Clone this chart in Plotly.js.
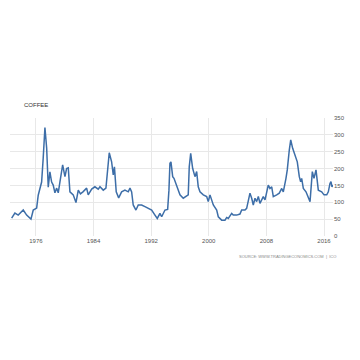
<!DOCTYPE html>
<html><head><meta charset="utf-8">
<script src="https://cdn.plot.ly/plotly-3.0.1.min.js"></script>
<style>html,body{margin:0;padding:0;background:#fff;}#chart{width:360px;height:360px;}</style>
</head><body><div id="chart"></div>
<script>
var years = [1972.63,1973.08,1973.54,1974.24,1974.71,1975.31,1975.63,1976.10,1976.32,1976.56,1976.79,1977.01,1977.25,1977.49,1977.71,1977.94,1978.18,1978.40,1978.64,1978.88,1979.10,1979.33,1979.57,1979.71,1980.03,1980.26,1980.49,1980.72,1981.18,1981.56,1981.88,1982.18,1982.53,1983.04,1983.26,1983.74,1984.19,1984.65,1984.89,1985.35,1985.72,1985.90,1986.18,1986.51,1986.74,1986.90,1987.15,1987.49,1987.90,1988.36,1988.82,1989.06,1989.29,1989.51,1989.89,1990.21,1990.68,1991.14,1991.60,1992.07,1992.53,1992.85,1993.22,1993.46,1993.92,1994.29,1994.47,1994.61,1994.75,1994.99,1995.17,1995.44,1995.76,1996.00,1996.46,1996.83,1997.15,1997.29,1997.49,1997.76,1998.08,1998.32,1998.54,1998.78,1999.24,1999.71,1999.93,2000.17,2000.63,2001.10,2001.32,2001.79,2002.25,2002.49,2002.71,2003.18,2003.40,2003.88,2004.33,2004.57,2005.03,2005.26,2005.49,2005.72,2005.96,2006.18,2006.42,2006.65,2006.88,2007.11,2007.57,2007.81,2008.26,2008.50,2008.74,2008.96,2009.43,2009.79,2010.13,2010.35,2010.72,2010.90,2011.18,2011.38,2011.65,2011.83,2012.11,2012.29,2012.57,2012.76,2012.90,2013.13,2013.50,2013.82,2014.06,2014.38,2014.61,2014.89,2015.21,2015.68,2016.00,2016.38,2016.60,2016.83,2016.97,2017.11,2017.25];
var prices = [53,68,62,77,62,50,77,83,121,145,160,231,322,261,145,190,160,151,128,142,128,160,202,211,176,200,202,131,122,99,136,125,131,142,122,139,146,139,146,136,142,176,247,220,181,205,131,113,131,136,131,142,131,92,77,92,92,87,82,77,62,52,67,57,77,79,136,216,220,176,171,156,136,122,112,117,122,205,245,201,176,191,146,131,122,117,102,122,92,77,57,47,47,55,52,67,62,62,65,77,77,82,107,127,112,92,112,102,117,97,117,107,151,141,146,117,122,127,141,131,171,196,255,285,260,250,230,220,176,161,171,141,131,112,102,191,171,196,136,131,122,122,131,156,161,146,151];
var xTicks = [1976,1984,1992,2000,2008,2016];
var xTickText = ["1976","1984","1992","2000","2008","2016"];
var yTicks = [0,50,100,150,200,250,300,350];

Plotly.newPlot('chart', [{
  x: years, y: prices, type: 'scatter', mode: 'lines',
  line: {color: '#3d6ea8', width: 1.5}, hoverinfo: 'none'
}], {
  width: 360, height: 360,
  margin: {l: 10, r: 27, t: 118, b: 124},
  paper_bgcolor: '#fff', plot_bgcolor: '#fff',
  showlegend: false,
  xaxis: {range: [1972.4, 2017.25], tickvals: xTicks, ticktext: xTickText,
    showgrid: true, gridcolor: '#e8e8e8', gridwidth: 1, zeroline: false, showline: false,
    ticks: '', tickfont: {family: 'Arial, Liberation Sans, sans-serif', size: 6, color: '#555'}},
  yaxis: {range: [0, 350], tickvals: yTicks, side: 'right',
    showgrid: true, gridcolor: '#e8e8e8', gridwidth: 1, zeroline: false, showline: false,
    ticks: '', tickfont: {family: 'Arial, Liberation Sans, sans-serif', size: 6, color: '#555'}},
  annotations: [
    {text: 'COFFEE', xref: 'paper', yref: 'paper', x: 0.036, y: 1.11, xanchor: 'left', yanchor: 'middle',
     showarrow: false, font: {family: 'Arial, Liberation Sans, sans-serif', size: 6, color: '#333'}},
    {text: 'SOURCE: WWW.TRADINGECONOMICS.COM  |  ICO', xref: 'paper', yref: 'paper', x: 1.015, y: -0.17,
     xanchor: 'right', yanchor: 'middle', showarrow: false,
     font: {family: 'Arial, Liberation Sans, sans-serif', size: 4, color: '#888'}}
  ]
}, {staticPlot: true});
</script></body></html>
